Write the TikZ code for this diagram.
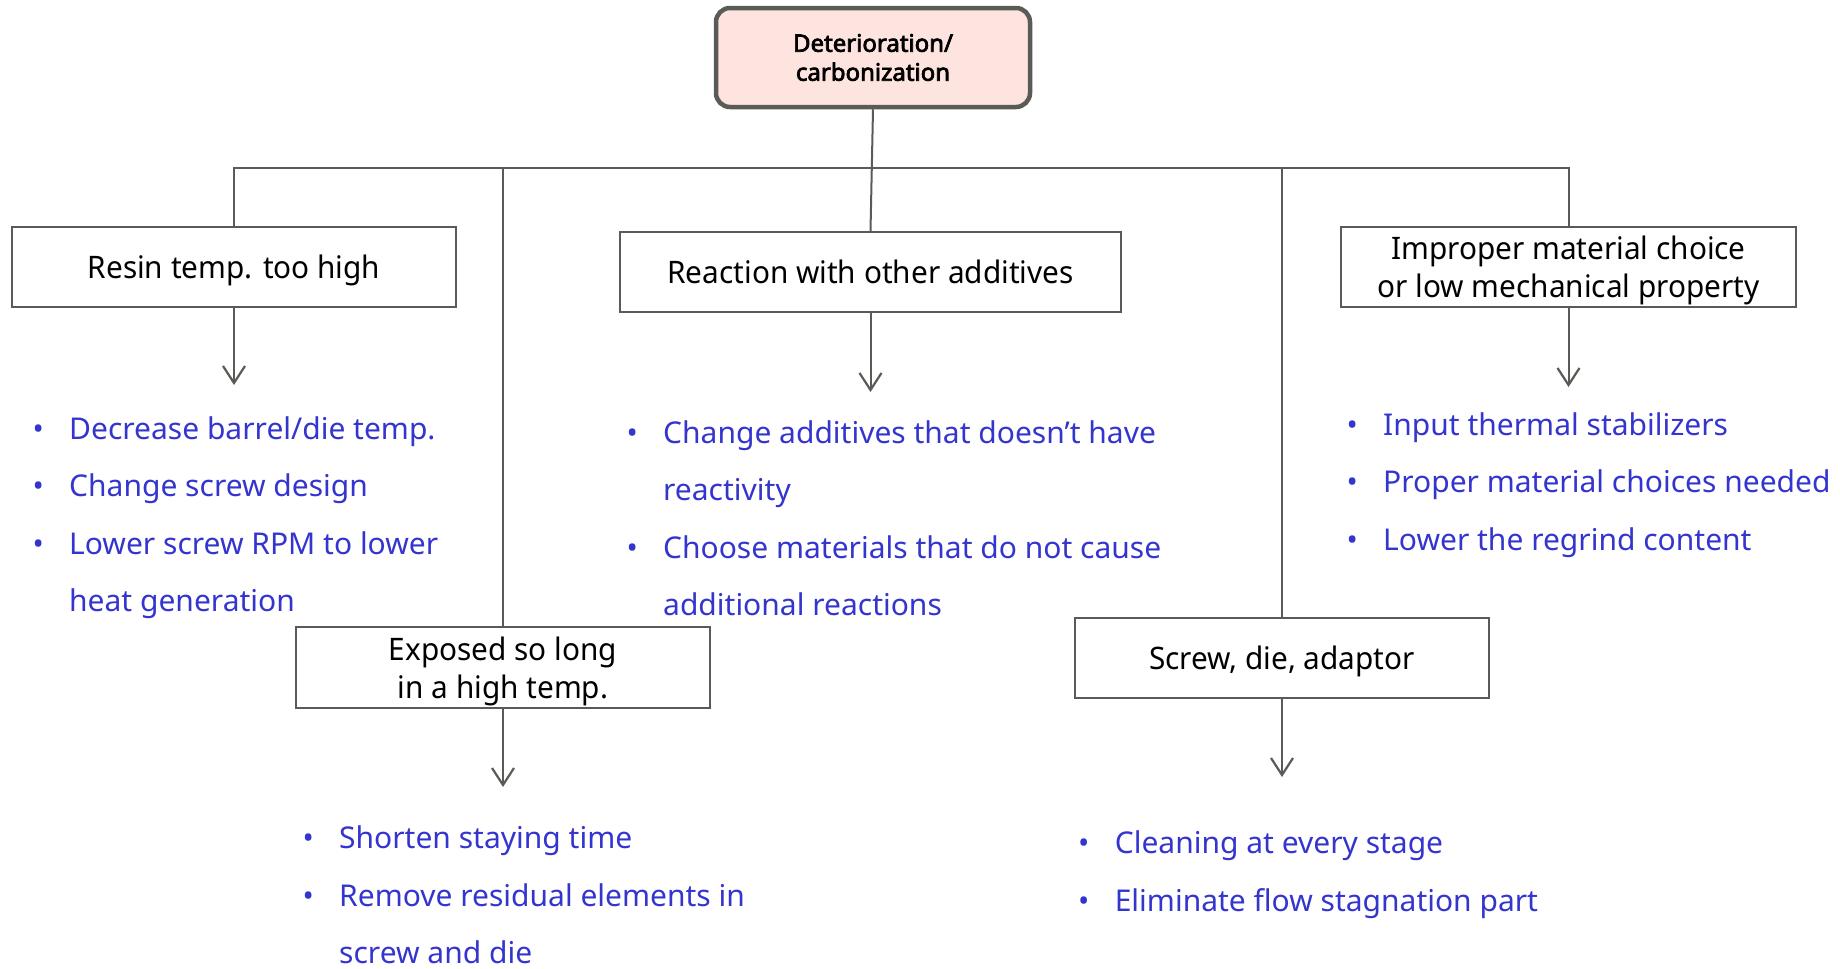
\documentclass[tikz,border=0pt]{standalone}
\usepackage{fontspec}
\setmainfont{Noto Sans}
\newfontfamily\boxfont{Noto Sans}[FakeStretch=0.96]
\newfontfamily\rootfont{Noto Sans}[FakeBold=3]
\usetikzlibrary{arrows.meta}
\definecolor{linegray}{RGB}{90,90,86}
\definecolor{tipblue}{RGB}{52,52,206}
\definecolor{rootfill}{RGB}{253,228,223}
% bullet hung to the left of each remedy line
\newcommand{\itm}{\llap{\makebox[62pt]{\textbullet}}}
\begin{document}
\begin{tikzpicture}[x=1pt,y=-1pt,
  rootbox/.style={draw=linegray, line width=4.5pt, fill=rootfill, rounded corners=14pt,
    minimum width=314pt, minimum height=99pt, align=center, inner sep=0pt,
    font=\rootfont\fontsize{24}{29}\selectfont},
  causebox/.style={draw=linegray, line width=2pt, fill=white, inner sep=0pt, text depth=0pt,
    align=center, font=\boxfont\fontsize{31}{38}\selectfont, text=black, minimum height=80pt},
  link/.style={draw=linegray, line width=2pt},
  arr/.style={link, -{Straight Barb[length=17pt,width=22pt,line width=2.2pt]}},
  % anchored at the baseline of the last line of each list
  remedy/.style={anchor=base west, align=left, text=tipblue, inner sep=0pt,
    font=\fontsize{30}{57.5}\selectfont},
]
\useasboundingbox (0,0) rectangle (1840,969);

% root problem
\node[rootbox] (root) at (873,57.5) {Deterioration/\\carbonization};

% causes
\node[causebox, minimum width=444pt] (resin)    at (234,267)    {Resin temp. too high};
\node[causebox, minimum width=501pt] (reaction) at (870.5,272)  {Reaction with other additives};
\node[causebox, minimum width=455pt] (improper) at (1568.5,267) {Improper material choice\\or low mechanical property};
\node[causebox, minimum width=414pt, minimum height=81pt] (exposed) at (503,667.5) {Exposed so long\\in a high temp.};
\node[causebox, minimum width=414pt] (screw)    at (1282,658)   {Screw, die, adaptor};

% distribution bus
\coordinate (bus) at (870.5,168);
\draw[link] (root.south) -- (reaction.north);
\draw[link] (resin.north) |- (bus) -| (improper.north);
\draw[link] (exposed.north) -- (exposed.north |- bus);
\draw[link] (screw.north) -- (screw.north |- bus);

% remedies
\draw[arr] (resin.south) -- ++(0,77);
\draw[arr] (reaction.south) -- ++(0,79);
\draw[arr] (improper.south) -- ++(0,79);
\draw[arr] (exposed.south) -- ++(0,78);
\draw[arr] (screw.south) -- ++(0,78);

\node[remedy] (r1) at (69,611.5) {\itm Decrease barrel/die temp.\\\itm Change screw design\\\itm Lower screw RPM to lower\\heat generation};
\node[remedy] (r2) at (663,615.5) {\itm Change additives that doesn’t have\\reactivity\\\itm Choose materials that do not cause\\additional reactions};
\node[remedy] (r3) at (1383,550) {\itm Input thermal stabilizers\\\itm Proper material choices needed\\\itm Lower the regrind content};
\node[remedy] (r4) at (339,963.5) {\itm Shorten staying time\\\itm Remove residual elements in\\screw and die};
\node[remedy] (r5) at (1114.6,911) {\itm Cleaning at every stage\\\itm Eliminate flow stagnation part};
\end{tikzpicture}
\end{document}
